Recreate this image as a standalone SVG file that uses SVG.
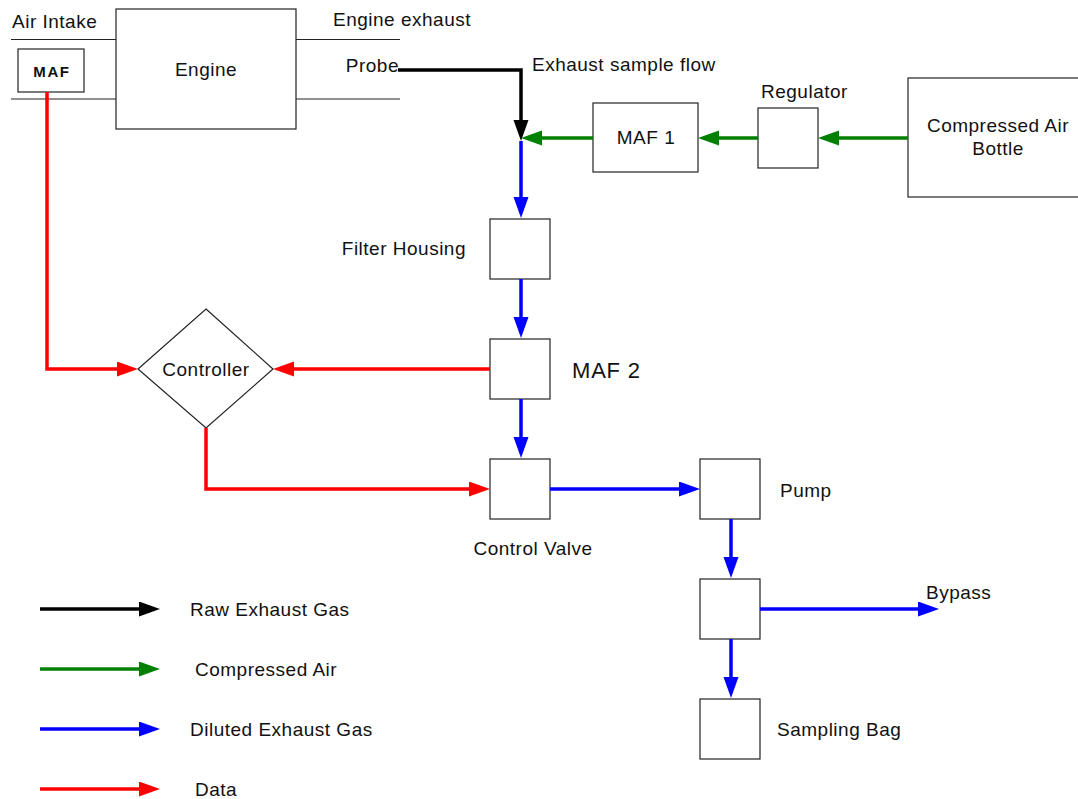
<svg xmlns="http://www.w3.org/2000/svg" width="1078" height="799" viewBox="0 0 1078 799">
<style>
text{font-family:"Liberation Sans",Arial,sans-serif;font-size:19px;letter-spacing:0.5px;fill:#111}
.box{fill:#fff;stroke:#222;stroke-width:1.2}
.pipe{stroke:#222;stroke-width:1.2;fill:none}
.c{fill:none;stroke-width:3.5;stroke-linecap:butt;stroke-linejoin:miter}
.k{stroke:#000}.g{stroke:#008000}.b{stroke:#0000ff}.r{stroke:#ff0000}
</style>
<defs>
<marker id="ak" markerUnits="userSpaceOnUse" markerWidth="22" markerHeight="16" refX="0" refY="7.5" orient="auto"><path d="M0,0L21,7.5L0,15z" fill="#000"/></marker>
<marker id="ag" markerUnits="userSpaceOnUse" markerWidth="22" markerHeight="16" refX="0" refY="7.5" orient="auto"><path d="M0,0L21,7.5L0,15z" fill="#008000"/></marker>
<marker id="ab" markerUnits="userSpaceOnUse" markerWidth="22" markerHeight="16" refX="0" refY="7.5" orient="auto"><path d="M0,0L21,7.5L0,15z" fill="#0000ff"/></marker>
<marker id="ar" markerUnits="userSpaceOnUse" markerWidth="22" markerHeight="16" refX="0" refY="7.5" orient="auto"><path d="M0,0L21,7.5L0,15z" fill="#ff0000"/></marker>
</defs>

<g id="intake">
<line class="pipe" x1="11" y1="39.5" x2="116" y2="39.5"/>
<line class="pipe" x1="11" y1="99" x2="116" y2="99"/>
<text x="12" y="28">Air Intake</text>
</g>
<g id="exhaust">
<line class="pipe" x1="296" y1="39.5" x2="400" y2="39.5"/>
<line class="pipe" x1="296" y1="99" x2="400" y2="99"/>
<text x="333" y="26">Engine exhaust</text>
<text x="399" y="72" text-anchor="end">Probe</text>
<text x="532" y="71">Exhaust sample flow</text>
</g>
<g id="maf"><rect class="box" x="18" y="49" width="66" height="43"/><text x="52" y="77" text-anchor="middle" font-weight="bold" style="font-size:15px;letter-spacing:1.6px">MAF</text></g>
<g id="engine"><rect class="box" x="116" y="9" width="180" height="120"/><text x="206" y="76" text-anchor="middle">Engine</text></g>
<g id="maf1"><rect class="box" x="593" y="103" width="105" height="69"/><text x="646" y="144" text-anchor="middle">MAF 1</text></g>
<g id="regulator"><rect class="box" x="758" y="108" width="60" height="60"/><text x="761" y="98">Regulator</text></g>
<g id="bottle"><rect class="box" x="908" y="78" width="175" height="119"/><text x="998" y="132" text-anchor="middle">Compressed Air</text><text x="998" y="155" text-anchor="middle">Bottle</text></g>
<g id="filter"><rect class="box" x="490" y="219" width="60" height="60"/><text x="466" y="255" text-anchor="end">Filter Housing</text></g>
<g id="maf2"><rect class="box" x="490" y="339" width="60" height="60"/><text x="572" y="378" style="font-size:22px;letter-spacing:0.8px">MAF 2</text></g>
<g id="controller"><path class="box" d="M206,309L273,369L206,428L138,369z"/><text x="206" y="376" text-anchor="middle">Controller</text></g>
<g id="valve"><rect class="box" x="490" y="459" width="60" height="60"/><text x="533" y="555" text-anchor="middle">Control Valve</text></g>
<g id="pump"><rect class="box" x="700" y="459" width="60" height="60"/><text x="780" y="497">Pump</text></g>
<g id="splitter"><rect class="box" x="700" y="579" width="60" height="60"/><text x="926" y="599">Bypass</text></g>
<g id="bag"><rect class="box" x="700" y="699" width="60" height="60"/><text x="777" y="736">Sampling Bag</text></g>

<g id="connectors">
<path class="c k" d="M398,70H521V120" marker-end="url(#ak)"/>
<path class="c g" d="M593,138H542" marker-end="url(#ag)"/>
<path class="c g" d="M758,138H719" marker-end="url(#ag)"/>
<path class="c g" d="M908,138H839" marker-end="url(#ag)"/>
<path class="c b" d="M521,141V197" marker-end="url(#ab)"/>
<path class="c b" d="M521,279V317" marker-end="url(#ab)"/>
<path class="c b" d="M521,399V437" marker-end="url(#ab)"/>
<path class="c b" d="M550,489H679" marker-end="url(#ab)"/>
<path class="c b" d="M731,519V557" marker-end="url(#ab)"/>
<path class="c b" d="M731,639V677" marker-end="url(#ab)"/>
<path class="c b" d="M760,609H918" marker-end="url(#ab)"/>
<path class="c r" d="M47,92V369H117" marker-end="url(#ar)"/>
<path class="c r" d="M490,369H294" marker-end="url(#ar)"/>
<path class="c r" d="M206,428V489H469" marker-end="url(#ar)"/>
</g>

<g id="legend">
<path class="c k" d="M40,609H139" marker-end="url(#ak)"/>
<path class="c g" d="M40,669H139" marker-end="url(#ag)"/>
<path class="c b" d="M40,729H139" marker-end="url(#ab)"/>
<path class="c r" d="M40,789H139" marker-end="url(#ar)"/>
<text x="190" y="616">Raw Exhaust Gas</text>
<text x="195" y="676">Compressed Air</text>
<text x="190" y="736">Diluted Exhaust Gas</text>
<text x="195" y="796">Data</text>
</g>
</svg>
